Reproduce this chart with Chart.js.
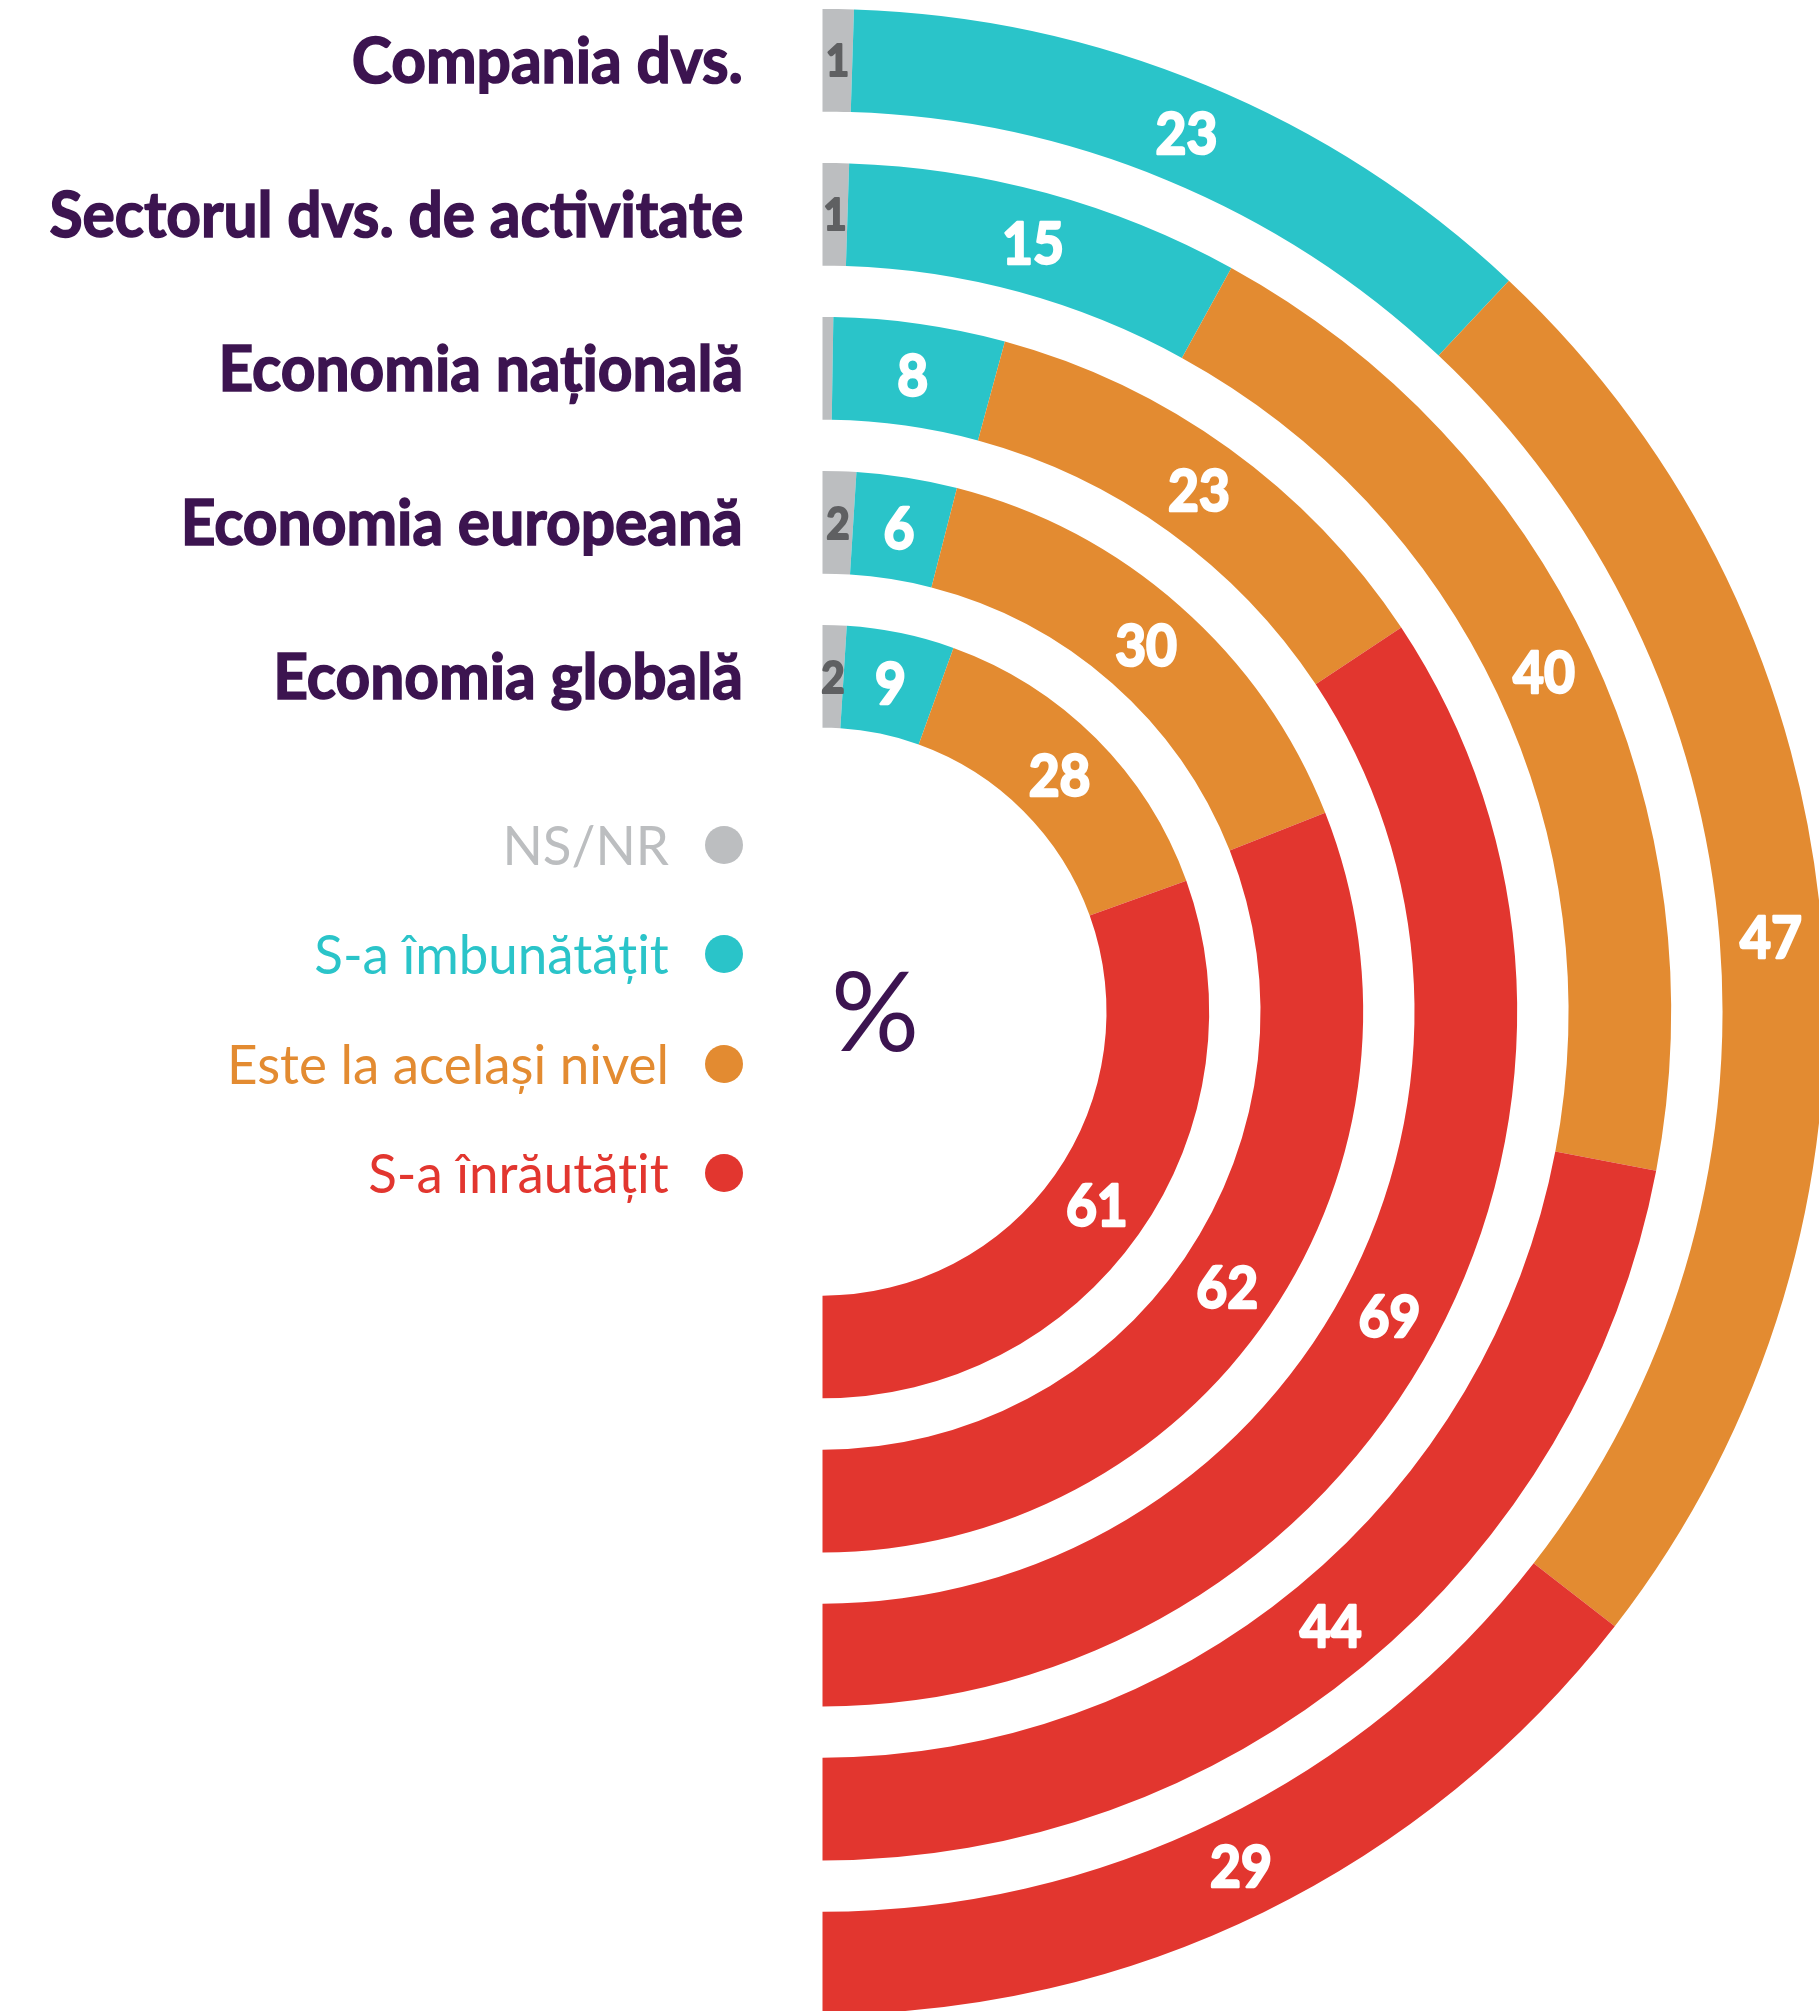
<!DOCTYPE html>
<html>
<head>
<meta charset="utf-8">
<script src="https://cdn.jsdelivr.net/npm/chart.js@4.4.1/dist/chart.umd.min.js"></script>
<style>
html,body{margin:0;padding:0;background:#fff;overflow:hidden;width:1819px;height:2011px}
#wrap{position:relative;width:1819px;height:2011px}
#chart{position:absolute;left:0;top:0}
.cat{position:absolute;right:1076px;font:bold 64px Lato;line-height:1;color:#3c1450;-webkit-text-stroke:1.6px #3c1450;white-space:nowrap;transform:scaleX(.945);transform-origin:right center}
.leg{position:absolute;right:1076px;display:flex;align-items:center;height:60px}
.leg span.t{font:54px Lato;line-height:1;white-space:nowrap;transform:scaleX(.98);transform-origin:right center}
.leg span.d{width:38px;height:38px;border-radius:50%;margin-left:36px}
#pct{position:absolute;left:875px;top:1008px;transform:translate(-50%,-50%);font:110px Lato;line-height:1;color:#3c1450}
</style>
</head>
<body>
<div id="wrap">
  <canvas id="chart" width="1819" height="2011"></canvas>
  <div id="pct">%</div>
</div>
<script>
const categories = ['Compania dvs.', 'Sectorul dvs. de activitate', 'Economia națională', 'Economia europeană', 'Economia globală'];
const seriesNames = ['NS/NR', 'S-a îmbunătățit', 'Este la același nivel', 'S-a înrăutățit'];
const seriesColors = ['#bcbec0', '#2ac4c9', '#e38b31', '#e2362f'];
const nsnr     = [1, 1, 0.5, 2, 2];
const improved = [23, 15, 8, 6, 9];
const same     = [47, 40, 23, 30, 28];
const worse    = [29, 44, 69, 62, 61];

// one ring per category, with an empty ring between them for the white gap
var datasets = []
categories.forEach(function(cat, i){
    if (i > 0) {
        datasets.push({label: 'gap', isGap: true, data: [1], backgroundColor: ['rgba(0,0,0,0)'], borderWidth: 0, weight: 0.5})
    }
    datasets.push({
        label: cat,
        data: [nsnr[i], improved[i], same[i], worse[i]],
        backgroundColor: seriesColors,
        borderWidth: 0,
        weight: 1
    })
})

const arcLabels = {
    id: 'arcLabels',
    afterDatasetsDraw(chart){
        const ctx = chart.ctx
        chart.data.datasets.forEach(function(ds, di){
            if (ds.isGap) return
            chart.getDatasetMeta(di).data.forEach(function(arc, j){
                const v = ds.data[j]
                if (v < 1) return
                const p = arc.tooltipPosition()
                ctx.save()
                ctx.translate(p.x, p.y)
                ctx.scale(0.92, 1)
                ctx.textAlign = 'center'
                ctx.textBaseline = 'alphabetic'
                ctx.lineJoin = 'round'
                if (j == 0) {
                    ctx.fillStyle = ctx.strokeStyle = '#5f6062'
                    ctx.font = 'bold 44px Lato'
                    ctx.lineWidth = 2
                    ctx.strokeText(v, 0, 16)
                    ctx.fillText(v, 0, 16)
                } else {
                    ctx.fillStyle = ctx.strokeStyle = '#ffffff'
                    ctx.font = 'bold 58px Lato'
                    ctx.lineWidth = 2.5
                    ctx.strokeText(v, 0, 21)
                    ctx.fillText(v, 0, 21)
                }
                ctx.restore()
            })
        })
    }
}

const chart = new Chart(document.getElementById('chart').getContext('2d'), {
    type: 'doughnut',
    data: {labels: seriesNames, datasets: datasets},
    options: {
        responsive: false,
        animation: false,
        events: [],
        rotation: 0,
        circumference: 180,
        radius: 1002.7,
        cutout: (284 / 1002.7 * 100) + '%',
        layout: {padding: {left: 828.7, top: 12.4, right: 0, bottom: 0}},
        plugins: {legend: {display: false}, tooltip: {enabled: false}}
    },
    plugins: [arcLabels]
})

// category names, centred on the top end of each ring
const wrap = document.getElementById('wrap')
chart.data.datasets.forEach(function(ds, di){
    if (ds.isGap) return
    const arc = chart.getDatasetMeta(di).data[0]
    const yc = arc.y - (arc.innerRadius + arc.outerRadius) / 2
    const el = document.createElement('div')
    el.className = 'cat'
    el.textContent = ds.label
    el.style.top = (yc - 0.527 * 64) + 'px'
    wrap.appendChild(el)
})

// legend
seriesNames.forEach(function(name, i){
    const el = document.createElement('div')
    el.className = 'leg'
    el.style.top = (815 + i * 109.3) + 'px'
    el.innerHTML = '<span class="t" style="color:' + seriesColors[i] + '">' + name + '</span><span class="d" style="background:' + seriesColors[i] + '"></span>'
    wrap.appendChild(el)
})
</script>
</body>
</html>
